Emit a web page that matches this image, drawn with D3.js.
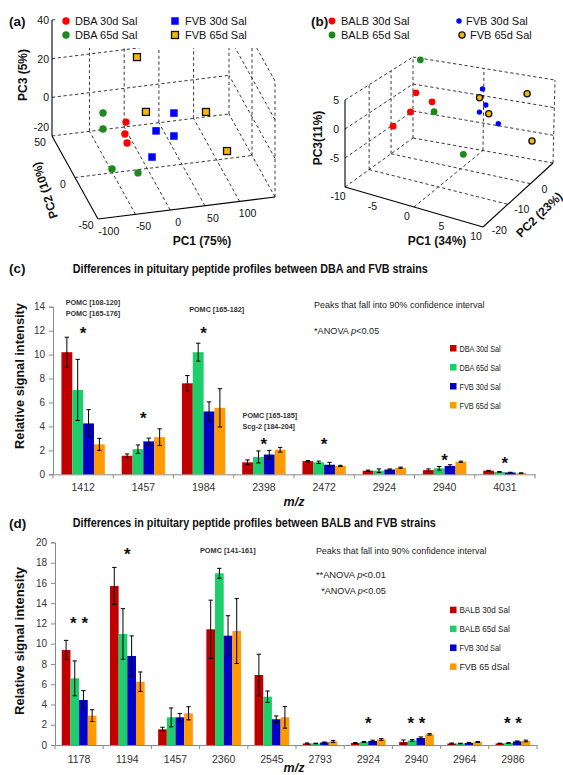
<!DOCTYPE html>
<html>
<head>
<meta charset="utf-8">
<title>Pituitary peptide profiles</title>
<script src="https://cdn.jsdelivr.net/npm/d3@7/dist/d3.min.js"></script>
<style>
  body { margin: 0; background: #fff; }
  svg { display: block; font-family: "Liberation Sans", Arial, Helvetica, sans-serif; }
  .nar { font-family: "Liberation Sans Narrow", "Arial Narrow", "Liberation Sans", Arial, sans-serif; }
</style>
</head>
<body>
<svg width="563" height="775"></svg>
<script>
// ---------- (a) PCA scores DBA / FVB : [PC1, PC2, PC3] ----------
var aNames = ["DBA 30d Sal", "DBA 65d Sal", "FVB 30d Sal", "FVB 65d Sal"];
var aDba30 = [[-23.9, 10, 0.8], [-25.5, 10, -5.3], [-29.0, 0, -5.5]];
var aDba65 = [[-50.4, 20, 2.4], [-50.4, 20, -5.9], [-70.6, -30, -4.2], [-33.1, -30, -7.9]];
var aFvb30 = [[51.8, 20, -2.2], [19.4, 10, -5.7], [38.5, 0, -4.9], [-6.3, -20, -5.2]];
var aFvb65 = [[-8.1, 10, 33.7], [18.1, 30, -4.4], [104.6, 30, -8.3], [108.4, -10, -11.5]];
var aTicks1 = [-100, -50, 0, 50, 100];
var aTicks2 = [-50, 0, 50];
var aTicks3 = [-20, 0, 20, 40];

// ---------- (b) PCA scores BALB / FVB : [PC1, PC2, PC3] ----------
var bNames = ["BALB 30d Sal", "BALB 65d Sal", "FVB 30d Sal", "FVB 65d Sal"];
var bBalb30 = [[-5.7, -2.4, 2.8], [-3.4, -2.4, 1.8], [-5.5, -5.5, 0.3], [-7.0, -8.6, -1.8]];
var bBalb65 = [[-8.5, 8.5, 5.2], [-3.1, -2.4, 0.1], [3.1, -8.6, -3.8]];
var bFvb30 = [[0.8, 6.9, 2.4], [1.3, 6.9, -0.4], [0.4, 6.9, -1.9], [3.1, 6.9, -3.4]];
var bFvb65 = [[0.4, 6.9, 0.7], [2.2, 5.4, -1.3], [8.1, 3.8, 4.2], [9.9, 0.7, -2.7]];
var bTicks1 = [-10, -5, 0, 5, 10];
var bTicks2 = [-20, -10, 0];
var bTicks3 = [-5, 0, 5];

// ---------- (c) DBA vs FVB peptide peaks ----------
var cMz = ["1412", "1457", "1984", "2398", "2472", "2924", "2940", "4031"];
var cNames = ["DBA 30d Sal", "DBA 65d Sal", "FVB 30d Sal", "FVB 65d Sal"];
var cDba30 = [10.2, 1.55, 7.6, 1.0, 1.1, 0.3, 0.35, 0.3];
var cDba65 = [7.05, 2.1, 10.2, 1.45, 1.0, 0.3, 0.5, 0.2];
var cFvb30 = [4.25, 2.75, 5.25, 1.65, 0.8, 0.4, 0.7, 0.15];
var cFvb65 = [2.5, 3.1, 5.55, 2.05, 0.7, 0.55, 1.05, 0.1];
var cDba30Err = [1.25, 0.15, 0.65, 0.2, 0.05, 0.05, 0.1, 0.03];
var cDba65Err = [2.55, 0.35, 0.75, 0.5, 0.1, 0.15, 0.15, 0.03];
var cFvb30Err = [1.15, 0.27, 0.8, 0.35, 0.2, 0.05, 0.1, 0.02];
var cFvb65Err = [0.5, 0.7, 1.6, 0.2, 0.05, 0.05, 0.05, 0.02];
var cStars = ["*", "*", "*", "*", "*", "", "*", "*"];
var cStarAt = [12.1, 5.0, 12.1, 2.9, 2.9, 0, 1.5, 1.25];
var cTicks = [0, 2, 4, 6, 8, 10, 12, 14];

// ---------- (d) BALB vs FVB peptide peaks ----------
var dMz = ["1178", "1194", "1457", "2360", "2545", "2793", "2924", "2940", "2964", "2986"];
var dNames = ["BALB 30d Sal", "BALB 65d Sal", "FVB 30d Sal", "FVB 65 dSal"];
var dBalb30 = [9.38, 15.7, 1.55, 11.42, 6.91, 0.15, 0.2, 0.3, 0.15, 0.15];
var dBalb65 = [6.58, 10.96, 2.73, 16.95, 4.77, 0.15, 0.3, 0.45, 0.15, 0.2];
var dFvb30 = [4.44, 8.79, 2.73, 10.79, 2.54, 0.25, 0.4, 0.7, 0.2, 0.35];
var dFvb65 = [2.9, 6.25, 3.13, 11.25, 2.73, 0.35, 0.55, 1.05, 0.3, 0.4];
var dBalb30Err = [0.95, 1.83, 0.2, 2.88, 2.05, 0.05, 0.05, 0.2, 0.05, 0.03];
var dBalb65Err = [1.72, 2.5, 0.93, 0.49, 0.56, 0.03, 0.05, 0.08, 0.03, 0.03];
var dFvb30Err = [0.93, 1.98, 0.38, 1.97, 0.33, 0.05, 0.08, 0.1, 0.05, 0.05];
var dFvb65Err = [0.58, 0.96, 0.65, 3.2, 1.07, 0.1, 0.08, 0.07, 0.05, 0.08];
var dStars = ["* *", "*", "", "", "", "", "*", "* *", "", "* *"];
var dStarAt = [12.4, 19.25, 0, 0, 0, 0, 2.6, 2.6, 0, 2.6];
var dTicks = [0, 2, 4, 6, 8, 10, 12, 14, 16, 18, 20];

var svg = d3.select("svg");

function label(g, s, x, y, size, opts) {
    opts = opts || {};
    var t = g.append("text")
        .attr("x", x)
        .attr("y", y)
        .attr("font-size", size)
        .attr("fill", opts.fill || "#111")
        .text(s);
    if (opts.cls) t.attr("class", opts.cls);
    if (opts.bold) t.attr("font-weight", "bold");
    if (opts.anchor) t.attr("text-anchor", opts.anchor);
    if (opts.len) t.attr("textLength", opts.len).attr("lengthAdjust", "spacingAndGlyphs");
    if (opts.rot !== undefined) {
        t.attr("x", 0).attr("y", 0)
            .attr("transform", "translate(" + x + "," + y + ") rotate(" + opts.rot + ")");
    }
    return t;
}

//////////////////////// 3D PCA panels ////////////////////////

function pcaPanel(dom1, dom2, dom3, bottom, top) {
    var p = {g: svg.append("g")};
    p.s1 = d3.scaleLinear().domain(dom1).range([0, 1]);
    p.s2 = d3.scaleLinear().domain(dom2).range([0, 1]);
    p.s3 = d3.scaleLinear().domain(dom3).range([0, 1]);
    // blend of the 8 box corners as they sit in the picture
    p.at = function (u, v, w) {
        function quad(c) {
            return [0, 1].map(function (k) {
                return (1 - u) * (1 - v) * c[0][k] + u * (1 - v) * c[1][k] +
                    (1 - u) * v * c[2][k] + u * v * c[3][k];
            });
        }
        var b = quad(bottom), t = quad(top);
        return [b[0] + (t[0] - b[0]) * w, b[1] + (t[1] - b[1]) * w];
    };
    p.pt = function (d) {
        return p.at(p.s1(d[0]), p.s2(d[1]), p.s3(d[2]));
    };
    p.seg = function (a, b, solid) {
        var q1 = p.at(a[0], a[1], a[2]), q2 = p.at(b[0], b[1], b[2]);
        p.g.append("line")
            .attr("x1", q1[0]).attr("y1", q1[1])
            .attr("x2", q2[0]).attr("y2", q2[1])
            .attr("stroke", solid ? "#000" : "#222")
            .attr("stroke-width", solid ? 1.1 : 0.9)
            .attr("stroke-dasharray", solid ? null : "3.2,2.6");
    };
    return p;
}

function marks(p, data, shape, size, fill, edge) {
    var sel = p.g.append("g").selectAll(shape).data(data).enter().append(shape);
    if (shape === "circle") {
        sel.attr("cx", function (d) { return p.pt(d)[0]; })
            .attr("cy", function (d) { return p.pt(d)[1]; })
            .attr("r", size);
    } else {
        sel.attr("x", function (d) { return p.pt(d)[0] - size / 2; })
            .attr("y", function (d) { return p.pt(d)[1] - size / 2; })
            .attr("width", size).attr("height", size);
    }
    sel.attr("fill", fill);
    if (edge) sel.attr("stroke", "#111").attr("stroke-width", 1.3);
}

function legendMark(g, shape, x, y, size, fill, edge) {
    var m;
    if (shape === "circle") {
        m = g.append("circle").attr("cx", x).attr("cy", y).attr("r", size);
    } else {
        m = g.append("rect").attr("x", x - size / 2).attr("y", y - size / 2)
            .attr("width", size).attr("height", size);
    }
    m.attr("fill", fill);
    if (edge) m.attr("stroke", "#111").attr("stroke-width", 1.3);
}

// ----- panel (a)
var A = pcaPanel([-104, 151], [-50, 50], [-20, 40],
    [[98, 219], [275, 197], [52, 136], [229, 114]],
    [[98, 103], [275, 81], [52, 20], [229, -2]]);

aTicks1.slice(1).forEach(function (t) {
    var u = A.s1(t);
    A.seg([u, 1, 0], [u, 1, 1]);
    A.seg([u, 0, 0], [u, 1, 0]);
});
aTicks3.slice(1, -1).forEach(function (t) {
    var w = A.s3(t);
    A.seg([0, 1, w], [1, 1, w]);
    A.seg([1, 0, w], [1, 1, w]);
});
aTicks2.slice(1, -1).forEach(function (t) {
    var v = A.s2(t);
    A.seg([0, v, 0], [1, v, 0]);
    A.seg([1, v, 0], [1, v, 1]);
});
A.seg([0, 1, 0], [1, 1, 0]);
A.seg([1, 0, 0], [1, 1, 0]);
A.seg([1, 0, 0], [1, 0, 1]);
A.seg([1, 1, 0], [1, 1, 1]);
A.seg([1, 0, 1], [1, 1, 1]);
A.seg([0, 1, 1], [1, 1, 1]);
A.seg([0, 1, 0], [0, 1, 1], true);
A.seg([0, 0, 0], [0, 1, 0], true);
A.seg([0, 0, 0], [1, 0, 0], true);

marks(A, aDba65, "circle", 3.7, "#1b8a1b");
marks(A, aDba30, "circle", 3.7, "#ff0000");
marks(A, aFvb30, "rect", 7.5, "#0000ff");
marks(A, aFvb65, "rect", 7, "#f5b800", true);

// legend box hides the top of the cube, as in the original
A.g.append("rect").attr("x", 56).attr("y", 0).attr("width", 203).attr("height", 48).attr("fill", "#fff");
legendMark(A.g, "circle", 66, 21, 3.7, "#ff0000");
legendMark(A.g, "circle", 66, 35, 3.7, "#1b8a1b");
legendMark(A.g, "rect", 175, 21, 7.5, "#0000ff");
legendMark(A.g, "rect", 175, 35, 7, "#f5b800", true);
label(A.g, aNames[0], 75, 25, 11);
label(A.g, aNames[1], 75, 39, 11);
label(A.g, aNames[2], 185, 25, 11);
label(A.g, aNames[3], 185, 39, 11);

aTicks3.forEach(function (t) {
    var q = A.at(0, 1, A.s3(t));
    label(A.g, t, 49, q[1] + 4 - (t === aTicks3[0] ? 9 : 0), 10.5, {anchor: "end"});
});
aTicks2.forEach(function (t) {
    var q = A.at(0, A.s2(t), 0);
    label(A.g, t, q[0] - 12, q[1] + 10, 10.5, {anchor: "middle"});
});
aTicks1.forEach(function (t) {
    var q = A.at(A.s1(t), 0, 0);
    label(A.g, t, q[0] + 8, q[1] + 16, 10.5, {anchor: "middle"});
});
label(A.g, "(a)", 9, 26, 13.5, {bold: true});
label(A.g, "PC3 (5%)", 27, 75, 12, {bold: true, anchor: "middle", rot: -90});
label(A.g, "PC2 (10%)", 49, 189, 12, {bold: true, anchor: "middle", rot: -108});
label(A.g, "PC1 (75%)", 202, 245, 12, {bold: true, anchor: "middle"});

// ----- panel (b)
var B = pcaPanel([-10, 10], [-21, 10], [-10, 5],
    [[345, 187], [483, 227], [413, 138], [553, 163]],
    [[345, 100], [483, 139], [413, 57], [555, 80]]);

[0].forEach(function (t) {
    var u = B.s1(t);
    B.seg([u, 0, 0], [u, 1, 0]);
    B.seg([u, 1, 0], [u, 1, 1]);
});
[-10, 0].forEach(function (t) {
    var v = B.s2(t);
    B.seg([0, v, 0], [1, v, 0]);
    B.seg([0, v, 0], [0, v, 1]);
});
bTicks3.slice(0, -1).forEach(function (t) {
    var w = B.s3(t);
    B.seg([0, 0, w], [0, 1, w]);
    B.seg([0, 1, w], [1, 1, w]);
});
B.seg([0, 0, 0], [0, 1, 0]);
B.seg([0, 1, 0], [1, 1, 0]);
B.seg([0, 1, 0], [0, 1, 1]);
B.seg([1, 1, 0], [1, 1, 1]);
B.seg([0, 0, 1], [0, 1, 1]);
B.seg([0, 1, 1], [1, 1, 1]);
B.seg([0, 0, 0], [0, 0, 1], true);
B.seg([0, 0, 0], [1, 0, 0], true);
B.seg([1, 0, 0], [1, 1, 0], true);

marks(B, bBalb30, "circle", 3.4, "#ff0000");
marks(B, bBalb65, "circle", 3.4, "#1b8a1b");
marks(B, bFvb30, "circle", 2.7, "#0000ff");
marks(B, bFvb65, "circle", 3.1, "#f5b800", true);

legendMark(B.g, "circle", 332, 21, 3.4, "#ff0000");
legendMark(B.g, "circle", 332, 35, 3.4, "#1b8a1b");
legendMark(B.g, "circle", 459, 21, 2.7, "#0000ff");
legendMark(B.g, "circle", 462, 35, 3.1, "#f5b800", true);
label(B.g, bNames[0], 341, 25, 11);
label(B.g, bNames[1], 341, 39, 11);
label(B.g, bNames[2], 466, 25, 11);
label(B.g, bNames[3], 470, 39, 11);

bTicks3.forEach(function (t) {
    var q = B.at(0, 0, B.s3(t));
    label(B.g, t, 339, q[1] + 4, 10.5, {anchor: "end"});
});
bTicks1.forEach(function (t) {
    var q = B.at(B.s1(t), 0, 0);
    label(B.g, t, q[0] - 7, q[1] + 13, 10.5, {anchor: "middle"});
});
bTicks2.forEach(function (t) {
    var q = B.at(1, B.s2(t), 0);
    label(B.g, t, q[0] + 14, q[1] + 9, 10.5, {anchor: "middle"});
});
label(B.g, "(b)", 311, 26, 13.5, {bold: true});
label(B.g, "PC3(11%)", 322, 138, 12, {bold: true, anchor: "middle", rot: -90});
label(B.g, "PC1 (34%)", 437, 245, 12, {bold: true, anchor: "middle"});
label(B.g, "PC2 (23%)", 521, 238, 12, {bold: true, rot: -44});

//////////////////////// bar chart panels ////////////////////////

var barColors = ["#c00000", "#1ccf6a", "#0000c8", "#ff9a00"];

function barPanel(o) {
    var g = svg.append("g");
    var x0 = d3.scaleBand().domain(o.cats).range([o.left, o.right])
        .paddingInner(0.28).paddingOuter(0.14);
    var x1 = d3.scaleBand().domain(d3.range(o.series.length)).range([0, x0.bandwidth()]);
    var y = d3.scaleLinear().domain([0, o.ticks[o.ticks.length - 1]]).range([o.bottom, o.top]);

    var ya = g.append("g")
        .attr("transform", "translate(" + o.left + ",0)")
        .call(d3.axisLeft(y).tickValues(o.ticks).tickSize(4).tickPadding(4));
    ya.select(".domain").attr("stroke", "#8a8a8a");
    ya.selectAll(".tick line").attr("stroke", "#8a8a8a");
    ya.selectAll(".tick text").attr("class", "nar").attr("font-size", 10).attr("fill", "#333");

    var xa = g.append("g")
        .attr("transform", "translate(0," + o.bottom + ")")
        .call(d3.axisBottom(x0).tickSize(0).tickPadding(o.labPad));
    xa.select(".domain").attr("stroke", "#8a8a8a");
    xa.selectAll(".tick text").attr("class", "nar").attr("font-size", 10.5).attr("fill", "#333");

    g.append("g").selectAll("line")
        .data(d3.range(o.cats.length + 1))
        .enter()
        .append("line")
        .attr("x1", function (i) { return o.left + i * x0.step(); })
        .attr("x2", function (i) { return o.left + i * x0.step(); })
        .attr("y1", o.bottom)
        .attr("y2", o.bottom + 4)
        .attr("stroke", "#8a8a8a");

    o.series.forEach(function (vals, i) {
        g.append("g").selectAll("rect")
            .data(vals)
            .enter()
            .append("rect")
            .attr("x", function (d, j) { return x0(o.cats[j]) + x1(i); })
            .attr("y", function (d) { return y(d); })
            .attr("width", x1.bandwidth())
            .attr("height", function (d) { return y(0) - y(d); })
            .attr("fill", barColors[i]);
    });

    o.series.forEach(function (vals, i) {
        var eg = g.append("g").attr("stroke", "#000").attr("stroke-width", 1);
        vals.forEach(function (v, j) {
            var e = o.errors[i][j];
            var cx = x0(o.cats[j]) + x1(i) + x1.bandwidth() / 2;
            var hi = y(v + e), lo = y(Math.max(0, v - e));
            eg.append("line").attr("x1", cx).attr("x2", cx).attr("y1", hi).attr("y2", lo);
            [hi, lo].forEach(function (yy) {
                eg.append("line").attr("x1", cx - 2.2).attr("x2", cx + 2.2).attr("y1", yy).attr("y2", yy);
            });
        });
    });

    o.stars.forEach(function (s, j) {
        if (!s) return;
        g.append("text")
            .attr("x", x0(o.cats[j]) + x0.bandwidth() / 2)
            .attr("y", y(o.starAt[j]) + 10)
            .attr("text-anchor", "middle")
            .attr("font-size", 17)
            .attr("font-weight", "bold")
            .attr("fill", "#111")
            .text(s);
    });

    o.names.forEach(function (n, i) {
        var cy = o.legY + i * o.legStep;
        g.append("rect").attr("x", 450).attr("y", cy - 3.3)
            .attr("width", 6.5).attr("height", 6.5).attr("fill", barColors[i]);
        label(g, n, 459.4, cy + 3.4, 9.5, {cls: "nar", fill: "#222", len: o.legLen[i]});
    });
    return g;
}

// ----- panel (c)
var C = barPanel({
    cats: cMz, names: cNames,
    series: [cDba30, cDba65, cFvb30, cFvb65],
    errors: [cDba30Err, cDba65Err, cFvb30Err, cFvb65Err],
    stars: cStars, starAt: cStarAt, ticks: cTicks,
    left: 53, right: 535, bottom: 474.3, top: 306.7, labPad: 9.5,
    legY: 348.3, legStep: 19, legLen: [41.3, 41.3, 41.3, 41.3]
});
label(C, "(c)", 9, 273, 13.5, {bold: true});
label(C, "Differences in pituitary peptide profiles between DBA and FVB strains", 72.7, 273, 12.5,
    {bold: true, cls: "nar", len: 355});
label(C, "POMC [108-120]", 65.7, 305, 7.5, {bold: true, cls: "nar", len: 54.5, fill: "#333"});
label(C, "POMC [165-176]", 65.7, 315.5, 7.5, {bold: true, cls: "nar", len: 54.5, fill: "#333"});
label(C, "POMC [165-182]", 189.2, 312, 7.5, {bold: true, cls: "nar", len: 55, fill: "#333"});
label(C, "POMC [165-185]", 242.6, 417.5, 7.5, {bold: true, cls: "nar", len: 54.6, fill: "#333"});
label(C, "Scg-2 [184-204]", 242.6, 428.5, 7.5, {bold: true, cls: "nar", len: 52.4, fill: "#333"});
label(C, "Peaks that fall into 90% confidence interval", 314, 307.5, 9.5,
    {cls: "nar", len: 170.5, fill: "#222"});
var cAnova = label(C, "*ANOVA ", 314, 334, 9.5, {cls: "nar", len: 65.3, fill: "#222"});
cAnova.append("tspan").attr("font-style", "italic").text("p");
cAnova.append("tspan").text("<0.05");
label(C, "Relative signal intensity", 23.5, 376, 12.5, {bold: true, cls: "nar", anchor: "middle", len: 146, rot: -90});
label(C, "m/z", 294, 506, 12.5, {bold: true, anchor: "middle"}).attr("font-style", "italic");

// ----- panel (d)
var D = barPanel({
    cats: dMz, names: dNames,
    series: [dBalb30, dBalb65, dFvb30, dFvb65],
    errors: [dBalb30Err, dBalb65Err, dFvb30Err, dFvb65Err],
    stars: dStars, starAt: dStarAt, ticks: dTicks,
    left: 55, right: 537, bottom: 745, top: 542.4, labPad: 10.5,
    legY: 610, legStep: 18.9, legLen: [50.3, 50.3, 41.3, 50]
});
label(D, "(d)", 9, 528, 13.5, {bold: true});
label(D, "Differences in pituitary peptide profiles between BALB and FVB strains", 72.8, 527, 12.5,
    {bold: true, cls: "nar", len: 363});
label(D, "POMC [141-161]", 200, 552.5, 7.5, {bold: true, cls: "nar", len: 55.6, fill: "#333"});
label(D, "Peaks that fall into 90% confidence interval", 315.9, 553.5, 9.5,
    {cls: "nar", len: 170.5, fill: "#222"});
var dAnova1 = label(D, "**ANOVA ", 315.9, 578, 9.5, {cls: "nar", len: 70, fill: "#222"});
dAnova1.append("tspan").attr("font-style", "italic").text("p");
dAnova1.append("tspan").text("<0.01");
var dAnova2 = label(D, "*ANOVA ", 321.2, 593.5, 9.5, {cls: "nar", len: 64.6, fill: "#222"});
dAnova2.append("tspan").attr("font-style", "italic").text("p");
dAnova2.append("tspan").text("<0.05");
label(D, "Relative signal intensity", 23.5, 641, 12.5, {bold: true, cls: "nar", anchor: "middle", len: 148, rot: -90});
label(D, "m/z", 294, 771.5, 12.5, {bold: true, anchor: "middle"}).attr("font-style", "italic");
</script>
</body>
</html>
